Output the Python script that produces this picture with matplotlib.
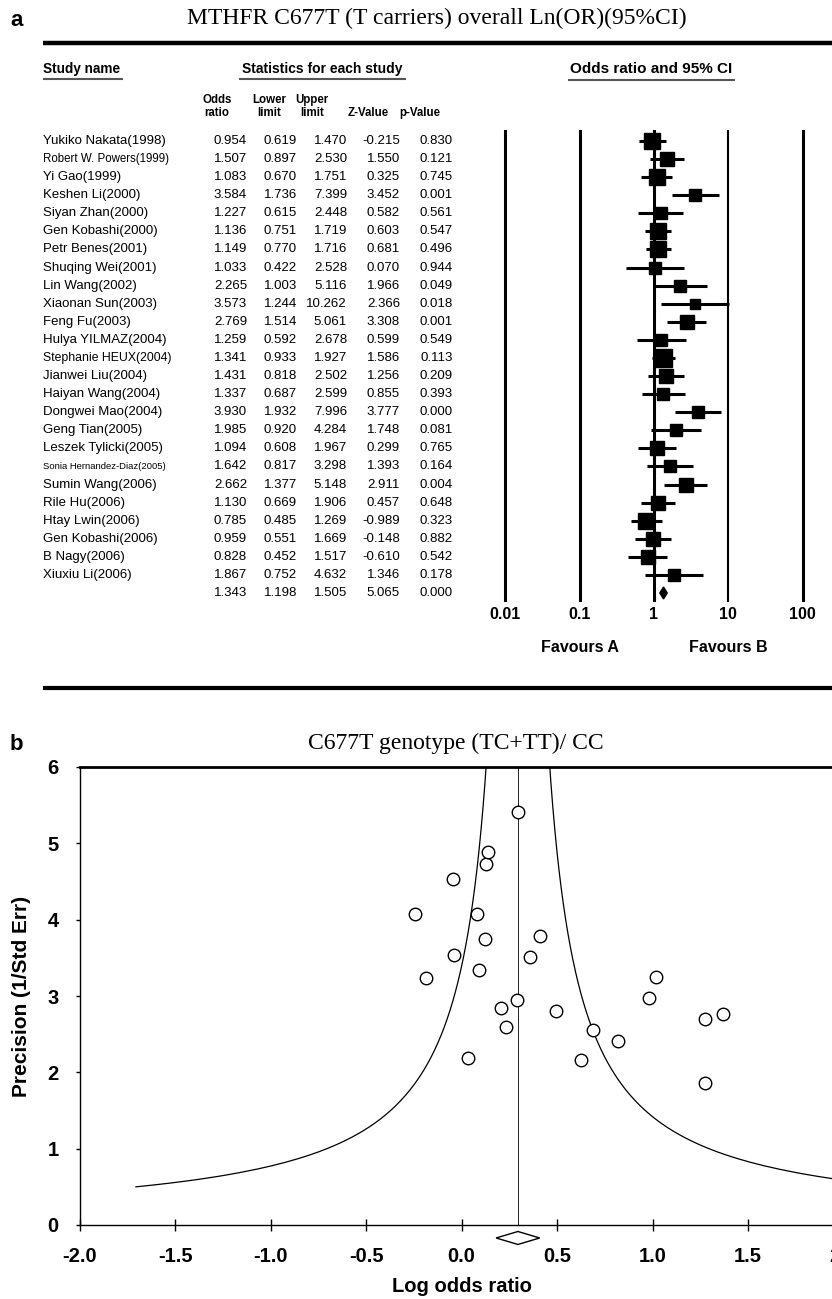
import numpy as np
import matplotlib
matplotlib.use("Agg")
import matplotlib.pyplot as plt
from matplotlib.lines import Line2D
from matplotlib import transforms
from matplotlib.ticker import NullLocator

# ---- data ----
studies = ["Yukiko Nakata(1998)", "Robert W. Powers(1999)", "Yi Gao(1999)", "Keshen Li(2000)",
           "Siyan Zhan(2000)", "Gen Kobashi(2000)", "Petr Benes(2001)", "Shuqing Wei(2001)",
           "Lin Wang(2002)", "Xiaonan Sun(2003)", "Feng Fu(2003)", "Hulya YILMAZ(2004)",
           "Stephanie HEUX(2004)", "Jianwei Liu(2004)", "Haiyan Wang(2004)", "Dongwei Mao(2004)",
           "Geng Tian(2005)", "Leszek Tylicki(2005)", "Sonia Hernandez-Diaz(2005)", "Sumin Wang(2006)",
           "Rile Hu(2006)", "Htay Lwin(2006)", "Gen Kobashi(2006)", "B Nagy(2006)", "Xiuxiu Li(2006)"]
odds_ratio = [0.954, 1.507, 1.083, 3.584, 1.227, 1.136, 1.149, 1.033, 2.265, 3.573, 2.769, 1.259, 1.341,
              1.431, 1.337, 3.930, 1.985, 1.094, 1.642, 2.662, 1.130, 0.785, 0.959, 0.828, 1.867]
lower_limit = [0.619, 0.897, 0.670, 1.736, 0.615, 0.751, 0.770, 0.422, 1.003, 1.244, 1.514, 0.592, 0.933,
               0.818, 0.687, 1.932, 0.920, 0.608, 0.817, 1.377, 0.669, 0.485, 0.551, 0.452, 0.752]
upper_limit = [1.470, 2.530, 1.751, 7.399, 2.448, 1.719, 1.716, 2.528, 5.116, 10.262, 5.061, 2.678, 1.927,
               2.502, 2.599, 7.996, 4.284, 1.967, 3.298, 5.148, 1.906, 1.269, 1.669, 1.517, 4.632]
z_value = [-0.215, 1.550, 0.325, 3.452, 0.582, 0.603, 0.681, 0.070, 1.966, 2.366, 3.308, 0.599, 1.586,
           1.256, 0.855, 3.777, 1.748, 0.299, 1.393, 2.911, 0.457, -0.989, -0.148, -0.610, 1.346]
p_value = [0.830, 0.121, 0.745, 0.001, 0.561, 0.547, 0.496, 0.944, 0.049, 0.018, 0.001, 0.549, 0.113,
           0.209, 0.393, 0.000, 0.081, 0.765, 0.164, 0.004, 0.648, 0.323, 0.882, 0.542, 0.178]
pooled = [1.343, 1.198, 1.505, 5.065, 0.000]   # OR, lower, upper, Z, p

or_ticks = [0.01, 0.1, 1, 10, 100]
or_tick_labels = ["0.01", "0.1", "1", "10", "100"]
lnor_ticks = [-2.0, -1.5, -1.0, -0.5, 0.0, 0.5, 1.0, 1.5, 2.0]
prec_ticks = [0, 1, 2, 3, 4, 5, 6]

W, H = 832, 1299
plt.rcParams['font.family'] = ['Liberation Sans', 'DejaVu Sans']
serif = ['Liberation Serif', 'DejaVu Serif']

fig = plt.figure(figsize=(W / 100, H / 100), dpi=100)

def fx(px):
    return px / W

def fy(py):
    return 1 - py / H

def hline(x0, x1, y, lw, color='k'):
    fig.add_artist(Line2D([fx(x0), fx(x1)], [fy(y), fy(y)], transform=fig.transFigure,
                          color=color, lw=lw, solid_capstyle='butt'))

# ================= panel a =================
fig.text(fx(10), fy(20), "a", fontsize=16, fontweight='bold', va='center')
fig.text(fx(437), fy(18), "MTHFR C677T (T carriers) overall Ln(OR)(95%CI)", family=serif,
         fontsize=17, ha='center', va='center')
hline(43, 832, 43, 3.2)

fig.text(fx(43), fy(69), "Study name", fontsize=9.8, fontweight='bold', va='center')
hline(43, 123, 79, 1.5, '#555555')
fig.text(fx(322), fy(69), "Statistics for each study", fontsize=10, fontweight='bold',
         ha='center', va='center')
hline(239, 406, 79, 1.5, '#555555')
fig.text(fx(651), fy(69), "Odds ratio and 95% CI", fontsize=11, fontweight='bold',
         ha='center', va='center')
hline(568, 735, 80, 1.5, '#555555')

sub_x = [217, 269, 312, 368, 420]
sub_top = ["Odds", "Lower", "Upper", "", ""]
sub_bot = ["ratio", "limit", "limit", "Z-Value", "p-Value"]
for x, t, b in zip(sub_x, sub_top, sub_bot):
    fig.text(fx(x), fy(100), t, fontsize=8.3, fontweight='bold', ha='center', va='center')
    fig.text(fx(x), fy(113), b, fontsize=8.3, fontweight='bold', ha='center', va='center')

# forest axes
x0, x1 = 480, 832
top, bot = 130, 602
row0, rowh = 141, 18.08
one_px, dec_px = 654, 74.3
ax = fig.add_axes([fx(x0), fy(bot), fx(x1) - fx(x0), (bot - top) / H])
ax.set_xscale('log')
ax.set_xlim(10 ** ((x0 - one_px) / dec_px), 10 ** ((x1 - one_px) / dec_px))
ax.set_ylim((bot - row0) / rowh, (top - row0) / rowh)
for s in ax.spines.values():
    s.set_visible(False)
ax.set_yticks([])
ax.set_xticks(or_ticks)
ax.set_xticklabels(or_tick_labels, fontsize=11.5, fontweight='bold')
ax.xaxis.set_minor_locator(NullLocator())
ax.tick_params(axis='x', length=0, pad=3.5)
ax.patch.set_alpha(0)

for v in or_ticks:
    ax.axvline(v, color='k', lw=1.5 if v == 10 else 2.2, zorder=1)

se = (np.log(upper_limit) - np.log(lower_limit)) / (2 * 1.96)
weight = 1 / se ** 2
side_px = 7 + 11 * np.sqrt(weight / weight.max())
rows = np.arange(len(studies))
for i in rows:
    ax.plot([lower_limit[i], upper_limit[i]], [i, i], color='k', lw=2.2,
            solid_capstyle='butt', zorder=2)
    ax.plot(odds_ratio[i], i, marker='s', ms=side_px[i] / 1.389, color='k', zorder=3)
n = len(studies)
ax.fill([pooled[1], pooled[0], pooled[2], pooled[0]], [n, n - 0.33, n, n + 0.33], color='k', zorder=3)

# table text
tr = transforms.blended_transform_factory(fig.transFigure, ax.transData)
name_size = {"Robert W. Powers(1999)": 8.3, "Stephanie HEUX(2004)": 8.8,
             "Sonia Hernandez-Diaz(2005)": 6.8}
col_right = [247, 297, 347, 400, 453]
for i in rows:
    ax.text(fx(43), i, studies[i], transform=tr, fontsize=name_size.get(studies[i], 9.5),
            ha='left', va='center')
    vals = [odds_ratio[i], lower_limit[i], upper_limit[i], z_value[i], p_value[i]]
    for xr, v in zip(col_right, vals):
        ax.text(fx(xr), i, f"{v:.3f}", transform=tr, fontsize=9.5, ha='right', va='center')
for xr, v in zip(col_right, pooled):
    ax.text(fx(xr), n, f"{v:.3f}", transform=tr, fontsize=9.5, ha='right', va='center')

trf = transforms.blended_transform_factory(ax.transData, fig.transFigure)
ax.text(0.1, fy(647), "Favours A", transform=trf, fontsize=11.5, fontweight='bold',
        ha='center', va='center')
ax.text(10, fy(647), "Favours B", transform=trf, fontsize=11.5, fontweight='bold',
        ha='center', va='center')

hline(43, 832, 688, 3.0)

# ================= panel b =================
fig.text(fx(10), fy(745), "b", fontsize=16, fontweight='bold', va='center')
fig.text(fx(456), fy(743), "C677T genotype (TC+TT)/ CC", family=serif, fontsize=17,
         ha='center', va='center')

fl, fr, ft, fb = 79.6, 843.6, 767, 1225
ax2 = fig.add_axes([fx(fl), fy(fb), fx(fr) - fx(fl), (fb - ft) / H])
ax2.set_xlim(-2, 2)
ax2.set_ylim(0, 6)

log_or = np.log(odds_ratio)
precision = 1 / se
center = np.log(pooled[0])
prec_line = np.linspace(0.5, 12, 500)
ax2.plot(center - 1 / prec_line, prec_line, color='k', lw=0.9)
ax2.plot(center + 1 / prec_line, prec_line, color='k', lw=0.9)
ax2.axvline(center, color='k', lw=0.6)
ax2.plot(log_or, precision, linestyle='none', marker='o', ms=9, mfc='white', mec='k', mew=1, zorder=3)

half_w = (np.log(pooled[2]) - np.log(pooled[1])) / 2
ax2.fill([np.log(pooled[1]), center, np.log(pooled[2]), center],
         [-0.17, -0.085, -0.17, -0.255], facecolor='white', edgecolor='k', lw=1, clip_on=False)

ax2.spines['right'].set_visible(False)
ax2.spines['top'].set_linewidth(2)
ax2.spines['left'].set_linewidth(1)
ax2.spines['bottom'].set_linewidth(1)
ax2.set_xticks(lnor_ticks)
ax2.set_xticklabels([f"{t:.1f}" for t in lnor_ticks], fontsize=14.5, fontweight='bold')
ax2.set_yticks(prec_ticks)
ax2.set_yticklabels([str(t) for t in prec_ticks], fontsize=14.5, fontweight='bold')
ax2.tick_params(axis='x', direction='inout', length=8, width=1, pad=11.5)
ax2.tick_params(axis='y', direction='out', length=3, width=1, pad=12)
ax2.set_xlabel("Log odds ratio", fontsize=14.5, fontweight='bold', labelpad=8)
ax2.set_ylabel("Precision (1/Std Err)", fontsize=15, fontweight='bold', labelpad=12)

fig.savefig("out.png", dpi=100)
